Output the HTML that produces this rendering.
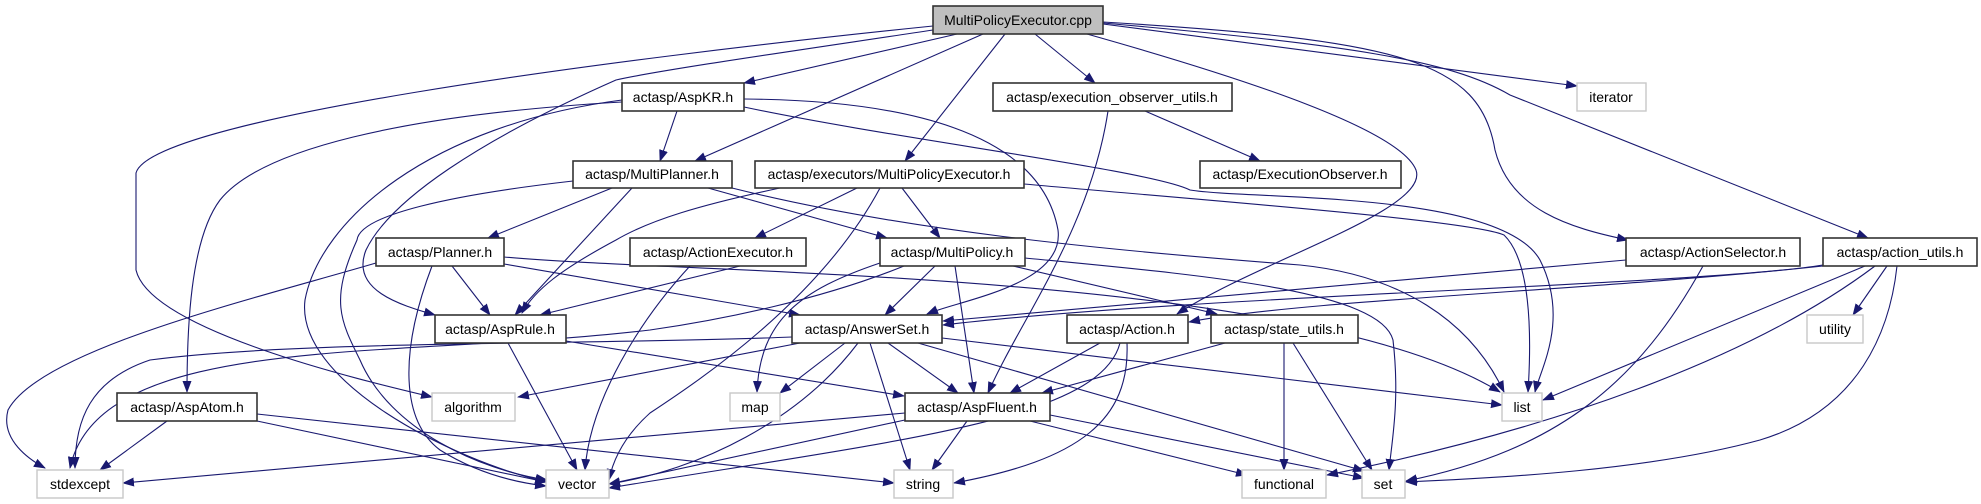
<!DOCTYPE html>
<html><head><meta charset="utf-8"><style>
html,body{margin:0;padding:0;background:#fff;}
svg{display:block;}
text{font-family:"Liberation Sans",sans-serif;font-size:14px;fill:#000;text-anchor:middle;dominant-baseline:central;}
.e{fill:none;stroke:#191970;stroke-width:1.1;marker-end:url(#a);}
.n{fill:#fff;stroke:#333;stroke-width:1.6;}
.g{fill:#fff;stroke:#c8c8c8;stroke-width:1.4;}
</style></head><body>
<svg width="1981" height="504" viewBox="0 0 1981 504" xmlns="http://www.w3.org/2000/svg">
<defs><marker id="a" markerUnits="userSpaceOnUse" markerWidth="12" markerHeight="10" refX="11" refY="4.5" orient="auto"><path d="M0,0 L12,4.5 L0,9 z" fill="#191970"/></marker></defs>
<g>
<!-- MultiPolicyExecutor.cpp -->
<path class="e" d="M957,34 L744,83"/>
<path class="e" d="M983,34 L695,161"/>
<path class="e" d="M1005,34 L905,161"/>
<path class="e" d="M1035,34 L1095,83"/>
<path class="e" d="M1103,24 L1577,86"/>
<path class="e" d="M1103,22 C1400,40 1480,60 1495,150 C1510,210 1570,228 1628,240"/>
<path class="e" d="M1103,23 C1350,45 1450,60 1510,95 L1868,238"/>
<path class="e" d="M1087,34 C1250,80 1400,130 1416,170 C1430,210 1260,260 1177,314"/>
<path class="e" d="M933,26 C600,60 150,120 136,173 L136,270 C150,330 360,380 432,397"/>
<path class="e" d="M933,30 C800,50 660,70 616,80 C480,140 390,200 366,250 C350,290 400,305 435,315"/>
<!-- AspKR.h -->
<path class="e" d="M677,111 L660,161"/>
<path class="e" d="M622,102 C400,115 260,150 220,200 C190,240 187,330 187,392"/>
<path class="e" d="M622,100 C430,125 320,220 305,300 C295,380 450,460 547,482"/>
<path class="e" d="M744,99 C900,100 1040,130 1058,230 C1065,285 960,300 927,314"/>
<path class="e" d="M744,107 C900,140 1150,170 1190,190 C1250,200 1500,190 1540,260 C1570,320 1540,370 1535,392"/>
<!-- MultiPlanner.h -->
<path class="e" d="M612,188 L488,238"/>
<path class="e" d="M632,188 L515,315"/>
<path class="e" d="M708,188 L887,238"/>
<path class="e" d="M573,181 C450,195 360,215 357,240 C330,300 340,320 360,360 C390,430 480,470 547,480"/>
<path class="e" d="M732,188 C900,230 1100,250 1300,265 C1400,275 1470,320 1504,392"/>
<!-- executors/MultiPolicyExecutor.h -->
<path class="e" d="M780,188 C700,205 650,220 616,240 C560,270 535,290 522,313"/>
<path class="e" d="M857,188 L755,238"/>
<path class="e" d="M902,188 L940,238"/>
<path class="e" d="M880,188 C820,300 700,380 650,413 C620,440 612,465 609,480"/>
<path class="e" d="M1024,184 C1200,200 1470,220 1504,235 C1530,260 1532,330 1528,392"/>
<!-- ActionExecutor.h -->
<path class="e" d="M740,266 L540,315"/>
<path class="e" d="M690,266 C640,320 590,400 585,470"/>
<!-- Planner.h -->
<path class="e" d="M376,263 C250,300 40,350 8,410 C0,440 30,460 45,468"/>
<path class="e" d="M452,266 L490,315"/>
<path class="e" d="M432,266 C400,350 400,420 440,450 C480,475 520,483 546,486"/>
<path class="e" d="M504,264 L800,315"/>
<path class="e" d="M504,257 C700,275 1300,270 1500,392"/>
<!-- MultiPolicy.h -->
<path class="e" d="M935,266 L885,315"/>
<path class="e" d="M955,266 L974,393"/>
<path class="e" d="M880,263 C800,290 760,320 757,392"/>
<path class="e" d="M904,266 C820,300 720,320 650,330 C400,360 100,330 70,468"/>
<path class="e" d="M1013,266 L1217,314"/>
<path class="e" d="M1025,258 C1200,275 1380,290 1393,340 C1400,400 1392,440 1389,470"/>
<!-- AnswerSet.h -->
<path class="e" d="M792,337 C600,345 300,340 150,360 C90,380 75,420 75,468"/>
<path class="e" d="M800,343 L518,397"/>
<path class="e" d="M845,343 L780,393"/>
<path class="e" d="M858,343 C800,420 700,470 609,484"/>
<path class="e" d="M870,343 L910,470"/>
<path class="e" d="M888,343 L958,393"/>
<path class="e" d="M942,338 L1502,405"/>
<path class="e" d="M918,343 L1364,471"/>
<!-- AspRule.h -->
<path class="e" d="M508,343 L577,470"/>
<path class="e" d="M566,341 L904,396"/>
<!-- Action.h -->
<path class="e" d="M1100,343 L1010,393"/>
<path class="e" d="M1120,343 C1100,420 900,440 609,488"/>
<path class="e" d="M1127,343 C1130,420 1080,460 954,483"/>
<!-- state_utils.h -->
<path class="e" d="M1225,343 L1042,393"/>
<path class="e" d="M1284,343 L1284,470"/>
<path class="e" d="M1293,343 L1372,470"/>
<!-- AspFluent.h -->
<path class="e" d="M905,413 L123,483"/>
<path class="e" d="M905,420 L609,484"/>
<path class="e" d="M967,421 L932,470"/>
<path class="e" d="M1030,421 L1247,475"/>
<path class="e" d="M1050,415 L1364,478"/>
<!-- AspAtom.h -->
<path class="e" d="M167,421 L100,470"/>
<path class="e" d="M257,421 L546,482"/>
<path class="e" d="M257,414 L894,483"/>
<!-- execution_observer_utils -->
<path class="e" d="M1145,111 L1260,161"/>
<path class="e" d="M1108,111 C1090,230 1020,320 988,393"/>
<!-- ActionSelector -->
<path class="e" d="M1626,260 L943,321"/>
<path class="e" d="M1703,266 C1640,380 1560,450 1406,481"/>
<!-- action_utils -->
<path class="e" d="M1823,265 C1700,285 1200,295 943,325"/>
<path class="e" d="M1823,266 C1600,290 1300,300 1189,322"/>
<path class="e" d="M1865,266 L1543,400"/>
<path class="e" d="M1875,266 C1750,360 1550,430 1327,475"/>
<path class="e" d="M1887,266 L1853,315"/>
<path class="e" d="M1897,266 C1890,330 1860,410 1760,440 C1650,470 1500,478 1406,482"/>
</g>
<g>
<rect x="933" y="6" width="170" height="28" fill="#bfbfbf" stroke="#333" stroke-width="1.6"/><text x="1018" y="20">MultiPolicyExecutor.cpp</text>
<rect class="n" x="622" y="83" width="122" height="28"/><text x="683" y="97">actasp/AspKR.h</text>
<rect class="n" x="993" y="83" width="239" height="28"/><text x="1112" y="97">actasp/execution_observer_utils.h</text>
<rect class="g" x="1577" y="83" width="69" height="28"/><text x="1611" y="97">iterator</text>
<rect class="n" x="573" y="161" width="159" height="27"/><text x="652" y="174">actasp/MultiPlanner.h</text>
<rect class="n" x="755" y="161" width="269" height="27"/><text x="889" y="174">actasp/executors/MultiPolicyExecutor.h</text>
<rect class="n" x="1200" y="161" width="201" height="27"/><text x="1300" y="174">actasp/ExecutionObserver.h</text>
<rect class="n" x="376" y="238" width="128" height="28"/><text x="440" y="252">actasp/Planner.h</text>
<rect class="n" x="630" y="238" width="176" height="28"/><text x="718" y="252">actasp/ActionExecutor.h</text>
<rect class="n" x="880" y="238" width="145" height="28"/><text x="952" y="252">actasp/MultiPolicy.h</text>
<rect class="n" x="1626" y="238" width="174" height="28"/><text x="1713" y="252">actasp/ActionSelector.h</text>
<rect class="n" x="1823" y="238" width="154" height="28"/><text x="1900" y="252">actasp/action_utils.h</text>
<rect class="n" x="435" y="315" width="131" height="28"/><text x="500" y="329">actasp/AspRule.h</text>
<rect class="n" x="792" y="315" width="150" height="28"/><text x="867" y="329">actasp/AnswerSet.h</text>
<rect class="n" x="1067" y="315" width="121" height="28"/><text x="1127" y="329">actasp/Action.h</text>
<rect class="n" x="1211" y="315" width="147" height="28"/><text x="1284" y="329">actasp/state_utils.h</text>
<rect class="g" x="1807" y="315" width="56" height="28"/><text x="1835" y="329">utility</text>
<rect class="n" x="117" y="393" width="140" height="28"/><text x="187" y="407">actasp/AspAtom.h</text>
<rect class="g" x="432" y="393" width="83" height="28"/><text x="473" y="407">algorithm</text>
<rect class="g" x="730" y="393" width="50" height="28"/><text x="755" y="407">map</text>
<rect class="n" x="905" y="393" width="145" height="28"/><text x="977" y="407">actasp/AspFluent.h</text>
<rect class="g" x="1502" y="393" width="40" height="28"/><text x="1522" y="407">list</text>
<rect class="g" x="37" y="470" width="86" height="28"/><text x="80" y="484">stdexcept</text>
<rect class="g" x="546" y="470" width="63" height="28"/><text x="577" y="484">vector</text>
<rect class="g" x="894" y="470" width="59" height="28"/><text x="923" y="484">string</text>
<rect class="g" x="1242" y="470" width="84" height="28"/><text x="1284" y="484">functional</text>
<rect class="g" x="1362" y="470" width="43" height="28"/><text x="1383" y="484">set</text>
</g>
</svg>
</body></html>
